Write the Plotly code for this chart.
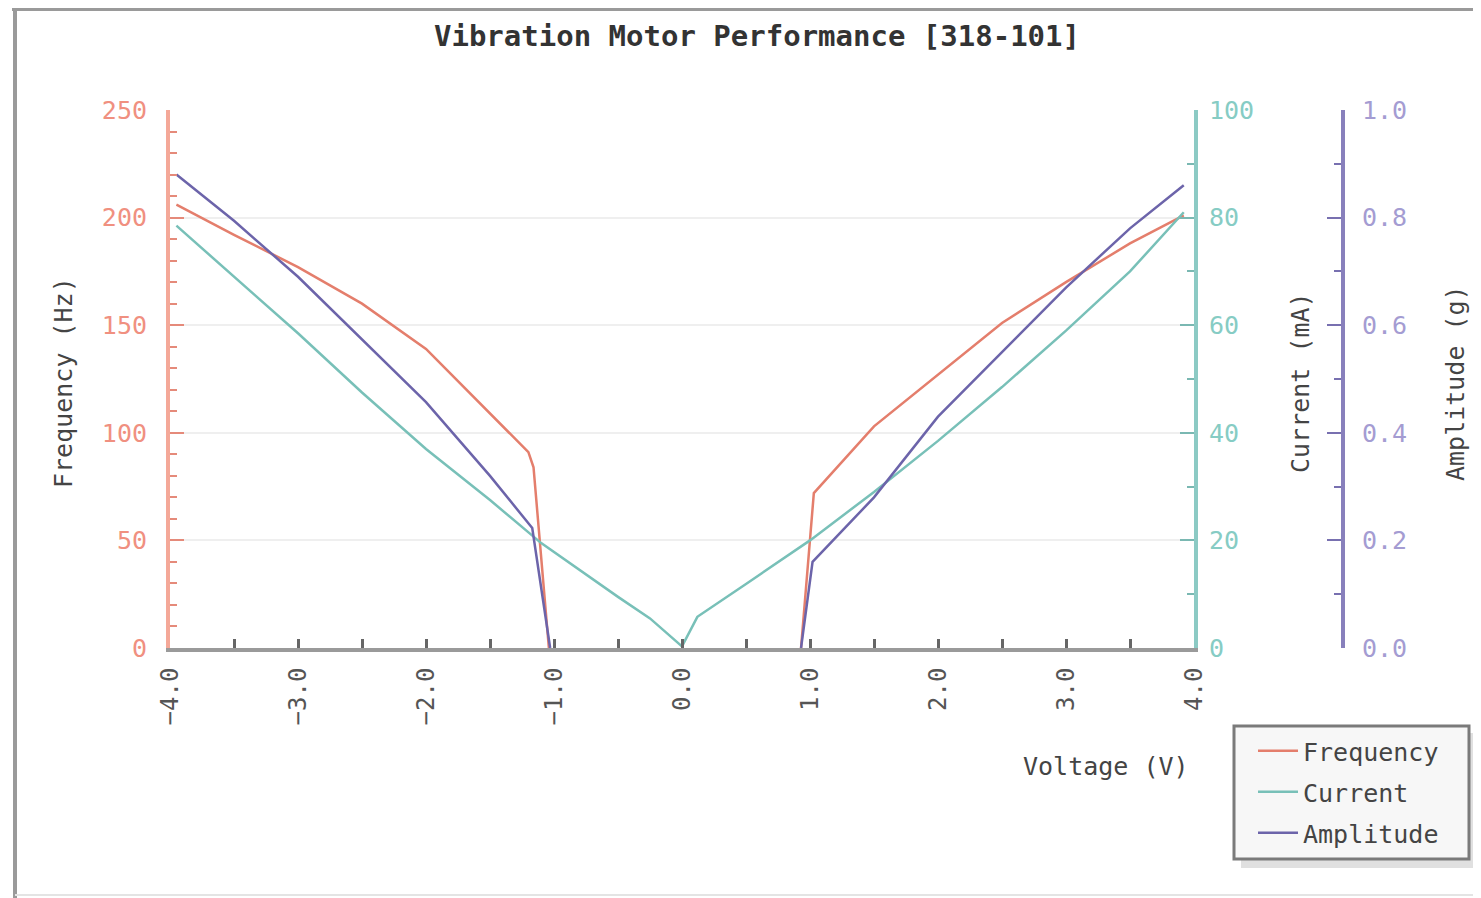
import plotly.graph_objects as go

# ---- data ----
freq_v = [-3.95, -3.5, -3.0, -2.5, -2.0, -1.5, -1.2, -1.16, -1.04, None, 0.93, 1.03, 1.5, 2.0, 2.5, 3.0, 3.5, 3.92]
freq_hz = [206, 192, 177, 160, 139, 109, 91, 84, 0, None, 0, 72, 103, 127, 151, 170, 188, 201]

curr_v = [-3.95, -3.5, -3.0, -2.5, -2.0, -1.5, -1.1, -0.5, -0.25, 0.0, 0.12, 0.5, 1.0, 1.5, 2.0, 2.5, 3.0, 3.5, 3.92]
curr_ma = [78.5, 69, 58.5, 47.5, 37, 27.5, 19.5, 9.5, 5.5, 0.3, 5.8, 11.9, 20, 29, 38.5, 48.5, 59, 70, 81]

amp_v = [-3.95, -3.5, -3.0, -2.5, -2.0, -1.5, -1.17, -1.03, None, 0.93, 1.02, 1.5, 2.0, 2.5, 3.0, 3.5, 3.92]
amp_g = [0.88, 0.794, 0.69, 0.574, 0.457, 0.32, 0.223, 0, None, 0, 0.16, 0.28, 0.43, 0.55, 0.67, 0.78, 0.86]

title_text = "Vibration Motor Performance [318-101]"
series_names = ["Frequency", "Current", "Amplitude"]

# ---- styling (screen pixel targets; page body has an 8px margin) ----
OFF = 8
SW, SH = 1481, 898
W, H = SW - OFF, SH - OFF
X0, X1, XA = 170, 1194, 1343   # screen x: plot left, plot right, amplitude axis
Y0, Y1 = 110, 648              # screen y: plot top, plot bottom
L = X0 - OFF
T = Y0 - OFF
R = W - (XA - OFF)
B = H - (Y1 - OFF)
PW = XA - X0
PH = Y1 - Y0
MONO = "DejaVu Sans Mono"

C_FREQ = "#e47e6c"
C_CURR = "#78c0b8"
C_AMP = "#6c64aa"
C_FREQ_TXT = "#f09080"
C_CURR_TXT = "#86ccc4"
C_AMP_TXT = "#a49cd2"
TXT = "#444444"


def px(x):
    return (x - X0) / PW


def py(y):
    return (Y1 - y) / PH


fig = go.Figure()
fig.add_trace(go.Scatter(x=freq_v, y=freq_hz, name=series_names[0], mode="lines", legendgroup="a",
                         line=dict(color=C_FREQ, width=2.5), yaxis="y", connectgaps=False))
fig.add_trace(go.Scatter(x=curr_v, y=curr_ma, name=series_names[1], mode="lines", legendgroup="b",
                         line=dict(color=C_CURR, width=2.5), yaxis="y2"))
fig.add_trace(go.Scatter(x=amp_v, y=amp_g, name=series_names[2], mode="lines", legendgroup="c",
                         line=dict(color=C_AMP, width=2.5), yaxis="y3", connectgaps=False))

xdom_end = (X1 - X0) / PW

fig.update_layout(
    width=W, height=H,
    margin=dict(l=L, r=R, t=T, b=B),
    paper_bgcolor="white", plot_bgcolor="white",
    title=dict(text="<b>" + title_text + "</b>", x=(757 - OFF) / W, xanchor="center",
               y=1 - (36 - OFF) / H, yanchor="middle", yref="container",
               font=dict(family=MONO, size=29, color="#333333")),
    xaxis=dict(domain=[0, xdom_end], range=[-4, 4], dtick=1, tickformat=".1f",
               tickangle=-90, ticks="inside", ticklen=9, tickwidth=3, tickcolor="#666",
               minor=dict(dtick=0.5, ticks="inside", ticklen=9, tickwidth=3, tickcolor="#666"),
               showline=True, linecolor="#9a9a9a", linewidth=4, showgrid=False,
               zeroline=False, ticklabelstandoff=6,
               tickfont=dict(family=MONO, size=24, color="#555555")),
    yaxis=dict(range=[0, 250], dtick=50, ticks="inside", ticklen=14, tickwidth=2,
               tickcolor="#e58a7a",
               minor=dict(dtick=10, ticks="inside", ticklen=7, tickwidth=2, tickcolor="#e58a7a"),
               showline=True, linecolor="#f4a898", linewidth=4,
               showgrid=True, gridcolor="#efefef", gridwidth=2, zeroline=False,
               ticklabelstandoff=14,
               tickfont=dict(family=MONO, size=25, color=C_FREQ_TXT)),
    yaxis2=dict(range=[0, 100], dtick=20, overlaying="y", side="right", anchor="x",
                ticks="inside", ticklen=14, tickwidth=2, tickcolor="#7ab8b2",
                minor=dict(dtick=10, ticks="inside", ticklen=7, tickwidth=2, tickcolor="#7ab8b2"),
                showline=True, linecolor="#8ccac4", linewidth=4, showgrid=False,
                zeroline=False, ticklabelstandoff=6,
                tickfont=dict(family=MONO, size=25, color=C_CURR_TXT)),
    yaxis3=dict(range=[0, 1], dtick=0.2, tickformat=".1f", overlaying="y", side="right",
                anchor="free", position=1.0,
                ticks="inside", ticklen=14, tickwidth=2, tickcolor="#7870b0",
                minor=dict(dtick=0.1, ticks="inside", ticklen=7, tickwidth=2, tickcolor="#7870b0"),
                showline=True, linecolor="#8880bc", linewidth=4, showgrid=False,
                zeroline=False, ticklabelstandoff=12,
                tickfont=dict(family=MONO, size=25, color=C_AMP_TXT)),
    legend=dict(x=px(1253), y=py(728), xanchor="left", yanchor="top",
                bgcolor="rgba(0,0,0,0)", borderwidth=0,
                font=dict(family=MONO, size=25, color=TXT), tracegroupgap=5.5,
                itemwidth=40),
    showlegend=True,
)

annos = [
    dict(text="Frequency (Hz)", x=px(63), y=py(383), textangle=-90),
    dict(text="Current (mA)", x=px(1300), y=py(383), textangle=-90),
    dict(text="Amplitude (g)", x=px(1455), y=py(383), textangle=-90),
    dict(text="Voltage (V)", x=px(1106), y=py(766), textangle=0),
]
for a in annos:
    fig.add_annotation(xref="paper", yref="paper", xanchor="center", yanchor="middle",
                       showarrow=False, font=dict(family=MONO, size=25, color=TXT), **a)

# legend box with shadow, and outer frame
fig.add_shape(type="rect", xref="paper", yref="paper", x0=px(1241), x1=px(1478),
              y0=py(868), y1=py(733), fillcolor="#e0e0e0", line=dict(width=0), layer="below")
fig.add_shape(type="rect", xref="paper", yref="paper", x0=px(1234), x1=px(1469),
              y0=py(859), y1=py(726), fillcolor="#f7f7f7", line=dict(color="#7a7a7a", width=3),
              layer="below")
fig.add_shape(type="line", xref="paper", yref="paper", x0=px(12), x1=px(1481),
              y0=py(9), y1=py(9), line=dict(color="#9a9a9a", width=4))
fig.add_shape(type="line", xref="paper", yref="paper", x0=px(15), x1=px(15),
              y0=py(9), y1=py(898), line=dict(color="#9a9a9a", width=4))
fig.add_shape(type="line", xref="paper", yref="paper", x0=px(15), x1=px(1481),
              y0=py(895), y1=py(895), line=dict(color="#e4e4e4", width=2))

fig.write_html("out.html")
